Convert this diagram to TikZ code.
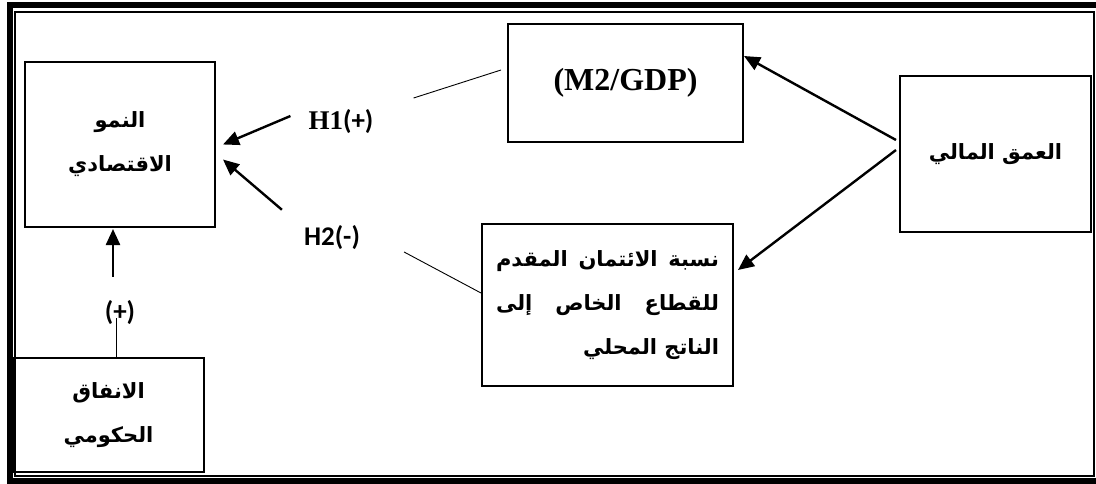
\documentclass[tikz,border=0pt]{standalone}
\usepackage{fontspec}
\usepackage{tikz}
\usetikzlibrary{positioning, arrows.meta}
\TeXXeTstate=1
\newfontfamily\arabicfont[Script=Arabic]{DejaVu Sans}
\newfontfamily\timesfont{Liberation Serif}
\newfontfamily\labelfont{Carlito}

\begin{document}
\begin{tikzpicture}[x=1pt,y=-1pt]
	\tikzstyle{box}=[draw=black,line width=2pt,inner sep=0pt]
	\tikzstyle{arr}=[line width=2.4pt,-{Triangle[length=16pt,width=14pt]}]
	\tikzstyle{thin}=[line width=0.9pt]
	\tikzstyle{ar}=[font=\arabicfont\bfseries\fontsize{21}{44}\selectfont]
	\tikzstyle{lbl}=[font=\labelfont\bfseries\fontsize{27}{30}\selectfont,inner sep=0pt]
	\useasboundingbox (0,0) rectangle (1096,483);
	% frame
	\draw[line width=6pt] (1100,5) -- (10,5) -- (10,481) -- (1100,481);
	\draw[line width=1.5pt] (15,12) rectangle (1094,476);
	% boxes
	\node[box,ar,align=center,minimum width=190pt,minimum height=165pt](growth) at (120,144.5)
		{\beginR النمو\endR\\\beginR الاقتصادي\endR};
	\node[box,ar,align=center,minimum width=191pt,minimum height=114pt](gov) at (108.5,415)
		{\beginR الانفاق\endR\\\beginR الحكومي\endR};
	\node[box,minimum width=235pt,minimum height=118pt,font=\timesfont\bfseries\fontsize{32}{36}\selectfont](m2) at (625.5,83)
		{(M2/GDP)};
	\node[box,ar,minimum width=251pt,minimum height=162pt](credit) at (607.5,305)
		{\vbox{\baselineskip=44pt
			\hbox to 223pt{\beginR نسبة\hfill الائتمان\hfill المقدم\endR}
			\hbox to 223pt{\beginR للقطاع\hfill الخاص\hfill إلى\endR}
			\hbox to 223pt{\hfill\beginR الناتج المحلي\endR}}};
	\node[box,ar,minimum width=191pt,minimum height=156pt](depth) at (995.5,154)
		{\beginR العمق المالي\endR};
	% labels
	\node[lbl](h1) at (341,122){{\timesfont H1}(+)};
	\node[lbl](h2) at (332,238){H2(-)};
	\node[lbl](plus) at (120,313){(+)};
	% arrows
	\path[arr]
		([xshift=-3pt,yshift=14pt]depth.west) edge ([yshift=27pt]m2.east)
		([xshift=-3pt,yshift=4pt]depth.west) edge ([xshift=4pt,yshift=35pt]credit.east)
		([xshift=-18pt,yshift=6pt]h1.west) edge ([xshift=7pt]growth.east)
		([xshift=-22pt,yshift=16pt]h2.north west) edge ([xshift=7pt,yshift=-15pt]growth.east)
		([xshift=-7pt,yshift=24pt]plus.north) edge ([xshift=-7pt,yshift=-1pt]growth.south);
	\path[thin]
		([xshift=40pt,yshift=24pt]h1.east) edge ([xshift=-6pt,yshift=13pt]m2.west)
		([xshift=44pt,yshift=-14pt]h2.east) edge ([yshift=12pt]credit.west)
		([xshift=7.5pt]gov.north) edge ([xshift=-4pt,yshift=-5pt]plus.center);
\end{tikzpicture}
\end{document}
